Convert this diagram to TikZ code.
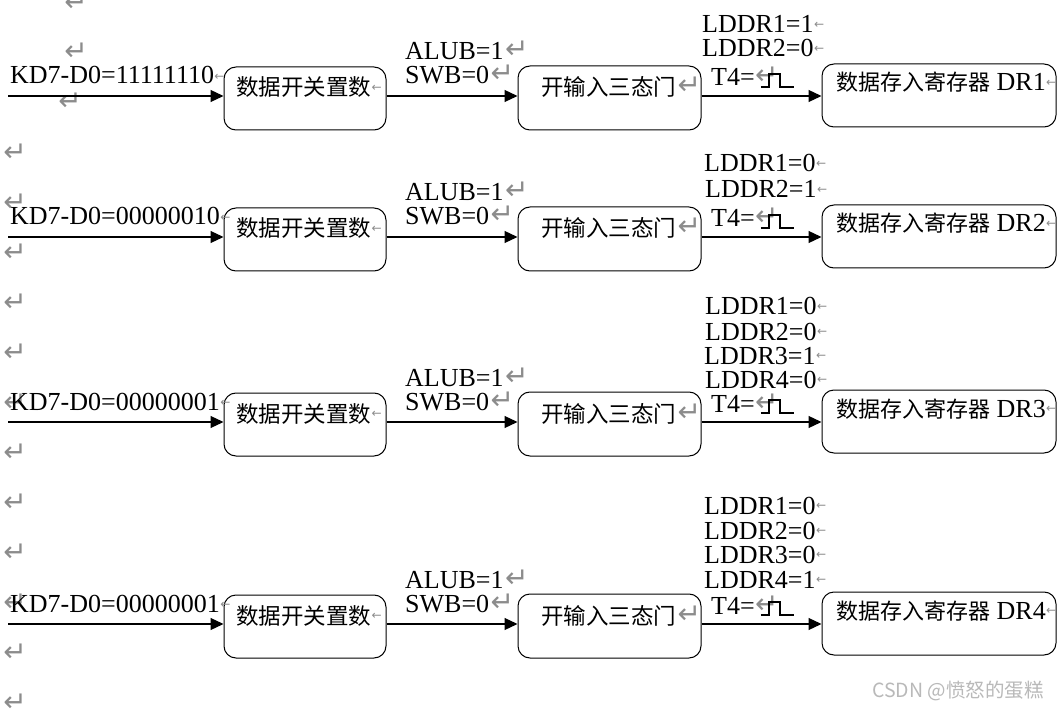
\documentclass[tikz,border=0pt]{standalone}
\usepackage{fontspec}
\setmainfont{Liberation Serif}
\newfontfamily\cjk{Noto Sans CJK SC}
\newfontfamily\dv{DejaVu Sans}
\usetikzlibrary{arrows.meta,calc}
\definecolor{mk}{gray}{0.55}
\tikzset{
  box/.style={draw, line width=1pt, rounded corners=12pt, inner sep=0pt},
  arr/.style={line width=1.2pt, -{Triangle[length=13pt,width=12pt]}},
  lab/.style={font=\fontsize{26}{26}\selectfont, inner sep=0pt, anchor=base west},
  cn/.style={font=\cjk\fontsize{22.5}{22.5}\selectfont, inner sep=0pt, anchor=base west},
  pm/.style={font=\dv\fontsize{28}{28}\selectfont, text=mk, inner sep=0pt},
  sm/.style={font=\dv\fontsize{12}{12}\selectfont, text=mk, inner sep=0pt, anchor=west},
  pulse/.style={line width=1.2pt},
}
\begin{document}
\begin{tikzpicture}[x=1pt,y=-1pt]
\fill[white] (0,0) rectangle (1060,711);
\useasboundingbox (0,0) rectangle (1060,711);

% paragraph marks in the left margin
\node[pm] (m0) at (76,3) {↵};
\node[pm] (m1) at (76,52) {↵};
\node[pm] (m2) at (70,102) {↵};
\foreach \k in {0,...,11} {
  \node[pm] (ml\k) at (15,{153+50*\k}) {↵};
}

\foreach \A/\kd/\dr/\n in {96/11111110/1/a, 237/00000010/2/b, 422/00000001/3/c, 624/00000001/4/d} {
  \coordinate (in\n) at (8,\A);
  \node[box, minimum width=162pt, minimum height=63pt] (p\n) at (305,{\A+2.5}) {};
  \node[box, minimum width=183pt, minimum height=64pt] (q\n) at (609.5,{\A+2}) {};
  \node[box, minimum width=234pt, minimum height=63pt] (r\n) at (939,{\A-0.5}) {};
  \draw[arr] (in\n) -- (in\n -| p\n.west);
  \draw[arr] (p\n.east |- in\n) -- (q\n.west |- in\n);
  \draw[arr] (q\n.east |- in\n) -- (r\n.west |- in\n);
  % input label
  \node[lab] (kd\n) at (10,{\A-12}) {KD7-D0=\kd};
  \node[sm] at ($(kd\n.base east)+(0,-7)$) {←};
  % box texts
  \node[cn] (pt\n) at (236,{\A}) {数据开关置数};
  \node[sm] at ($(pt\n.base east)+(0,-8)$) {←};
  \node[cn] (qt\n) at (541,{\A}) {开输入三态门};
  \node[pm, anchor=base west] at ($(qt\n.base east)+(1,-1)$) {↵};
  \node[lab] (rt\n) at (836,{\A-5}) {{\cjk\fontsize{22}{22}\selectfont 数据存入寄存器} DR\dr};
  \node[sm] at ($(rt\n.base east)+(0,-8)$) {←};
  % middle labels
  \node[lab] (al\n) at (405,{\A-36}) {ALUB=1};
  \node[pm, anchor=base west] at ($(al\n.base east)+(1,-1)$) {↵};
  \node[lab] (sw\n) at (405,{\A-12}) {SWB=0};
  \node[pm, anchor=base west] at ($(sw\n.base east)+(1,-1)$) {↵};
  % T4 with pulse
  \node[lab] (t\n) at (711,{\A-10}) {T4=};
  \node[pm, anchor=base west] (tm\n) at ($(t\n.base east)+(0,-1)$) {↵};
  \draw[pulse] ($(t\n.base east)+(6,1)$) -- ++(8,0) -- ++(0,-13) -- ++(11,0) -- ++(0,13) -- ++(14,0);
}

% LDDR labels
\node[lab] (l1a) at (702,33) {LDDR1=1};
\node[lab] (l2a) at (702,57) {LDDR2=0};
\node[lab] (l1b) at (704,172) {LDDR1=0};
\node[lab] (l2b) at (705,198) {LDDR2=1};
\node[lab] (l1c) at (705,315) {LDDR1=0};
\node[lab] (l2c) at (705,340) {LDDR2=0};
\node[lab] (l3c) at (704,364) {LDDR3=1};
\node[lab] (l4c) at (705,388) {LDDR4=0};
\node[lab] (l1d) at (704,514) {LDDR1=0};
\node[lab] (l2d) at (704,539) {LDDR2=0};
\node[lab] (l3d) at (704,563) {LDDR3=0};
\node[lab] (l4d) at (704,588) {LDDR4=1};
\foreach \m in {l1a,l2a,l1b,l2b,l1c,l2c,l3c,l4c,l1d,l2d,l3d,l4d} {
  \node[sm] at ($(\m.base east)+(0,-8)$) {←};
}

% watermark
\node[font=\cjk\fontsize{19.5}{19.5}\selectfont, text=gray!55, anchor=west, inner sep=0pt] (wm) at (872,691) {CSDN @愤怒的蛋糕};
\end{tikzpicture}
\end{document}
